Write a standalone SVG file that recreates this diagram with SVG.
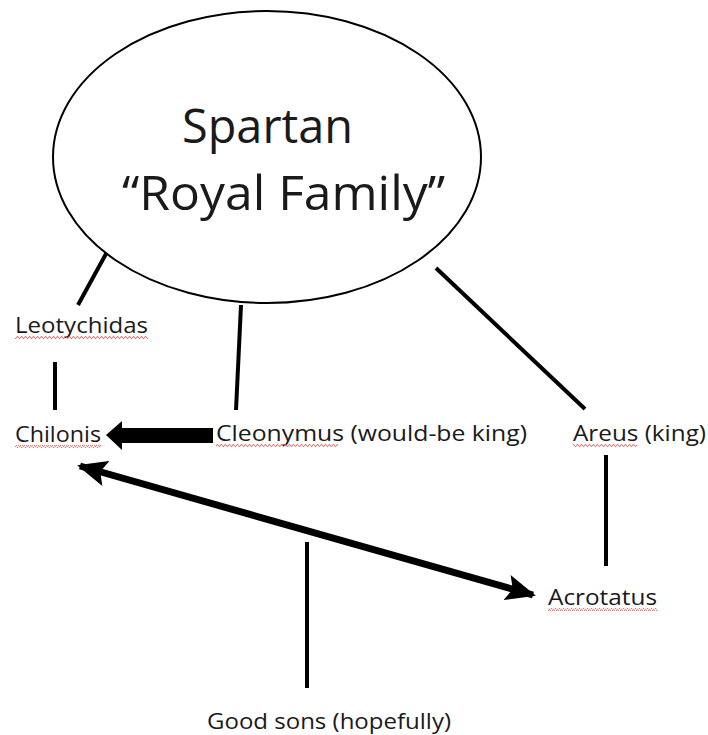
<svg xmlns="http://www.w3.org/2000/svg" width="708" height="735" viewBox="0 0 708 735">
  <style>
    .lbl { font-family: "Open Sans", "Liberation Sans", sans-serif; font-size: 22px; fill: #1a1a1a; }
    .title { font-family: "Open Sans", "Liberation Sans", sans-serif; font-size: 47px; fill: #1a1a1a; }
    .ln { stroke: #000; stroke-width: 4; fill: none; stroke-linecap: butt; }
    .sq { fill: url(#squiggle); }
  </style>
  <defs>
    <pattern id="squiggle" x="0" y="0" width="4" height="3" patternUnits="userSpaceOnUse">
      <path d="M0,2.5 L1,0.5 L2,0.5 L3,2.5 L4,2.5" stroke="#e06a6a" stroke-width="0.9" fill="none"/>
    </pattern>
    <marker id="head" markerUnits="userSpaceOnUse" markerWidth="30" markerHeight="26" refX="27" refY="13" orient="auto-start-reverse" viewBox="0 0 30 26">
      <path d="M0,0 L30,13 L0,26 L6,13 Z" fill="#000"/>
    </marker>
  </defs>

  <g id="connectors">
    <line class="ln" x1="107" y1="252" x2="78" y2="305"/>
    <line class="ln" x1="241" y1="305" x2="236" y2="410"/>
    <line class="ln" x1="436" y1="268" x2="585" y2="409"/>
    <line class="ln" x1="55" y1="362" x2="55" y2="410"/>
    <line class="ln" x1="606" y1="455" x2="606" y2="566"/>
    <line class="ln" x1="307" y1="542" x2="307" y2="688"/>
    <path d="M213,428 L122,428 L122,421 L106,435 L122,450 L122,443 L213,443 Z" fill="#000"/>
    <line x1="80" y1="466" x2="533" y2="595" stroke="#000" stroke-width="7" marker-start="url(#head)" marker-end="url(#head)"/>
  </g>

  <g id="royal-family">
    <ellipse cx="267" cy="157" rx="214" ry="146" fill="#fff" stroke="#000" stroke-width="2"/>
    <text class="title" x="182" y="143" textLength="171" lengthAdjust="spacingAndGlyphs">Spartan</text>
    <text class="title" x="122" y="210" textLength="323" lengthAdjust="spacingAndGlyphs">“Royal Family”</text>
  </g>

  <g id="leotychidas">
    <text class="lbl" x="15" y="333" textLength="133" lengthAdjust="spacingAndGlyphs">Leotychidas</text>
    <rect class="sq" x="15" y="336" width="133" height="3"/>
  </g>

  <g id="chilonis">
    <text class="lbl" x="15" y="442" textLength="86" lengthAdjust="spacingAndGlyphs">Chilonis</text>
    <rect class="sq" x="15" y="445" width="86" height="3"/>
  </g>

  <g id="cleonymus">
    <text class="lbl" x="216" y="441" textLength="311" lengthAdjust="spacingAndGlyphs">Cleonymus (would-be king)</text>
    <rect class="sq" x="216" y="444" width="122" height="3"/>
  </g>

  <g id="areus">
    <text class="lbl" x="573" y="441" textLength="133" lengthAdjust="spacingAndGlyphs">Areus (king)</text>
    <rect class="sq" x="573" y="444" width="64" height="3"/>
  </g>

  <g id="acrotatus">
    <text class="lbl" x="548" y="605" textLength="109" lengthAdjust="spacingAndGlyphs">Acrotatus</text>
    <rect class="sq" x="548" y="608" width="109" height="3"/>
  </g>

  <g id="good-sons">
    <text class="lbl" x="207" y="729" textLength="244" lengthAdjust="spacingAndGlyphs">Good sons (hopefully)</text>
  </g>
</svg>
